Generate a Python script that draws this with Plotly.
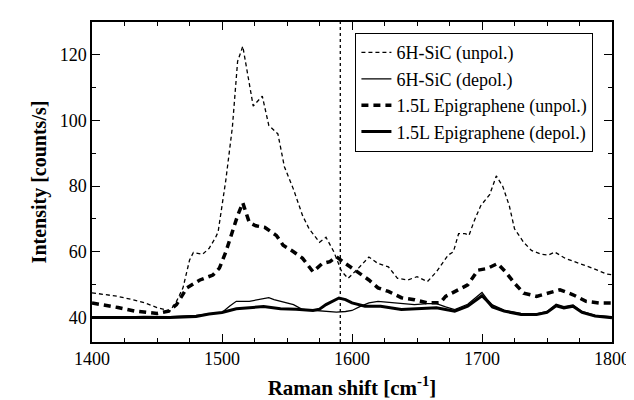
import plotly.graph_objects as go

# 6H-SiC (unpol.)
x_sic_unpol = [1400, 1410, 1420, 1430, 1440, 1450, 1460, 1465, 1470, 1475, 1478, 1485, 1490, 1495,
               1497, 1500, 1503, 1508, 1512, 1516, 1520, 1524, 1531, 1536, 1543, 1548, 1555, 1562,
               1567, 1575, 1580, 1586, 1592, 1597, 1605, 1613, 1620, 1628, 1635, 1643, 1650, 1658,
               1665, 1674, 1678, 1682, 1687, 1690, 1694, 1699, 1706, 1711, 1716, 1721, 1725, 1732,
               1738, 1746, 1751, 1756, 1764, 1775, 1785, 1796, 1800]
y_sic_unpol = [47.5, 47, 46.4, 45.5, 44.5, 43, 42, 44.9, 49, 57.4, 59.8, 59.2, 61, 64.3,
               66, 74, 82, 98, 118, 122.6, 114, 104.4, 107.4, 98.5, 95.9, 85.9, 79, 71,
               67, 62.9, 64.4, 60, 54, 51.9, 55, 58.4, 56.4, 55.4, 51.9, 51.4, 52.4, 50.9,
               53.9, 59, 60, 65.5, 65.5, 65, 69.4, 74, 77.5, 83.1, 79.9, 74, 67, 62.9,
               60.4, 59.2, 59, 59.9, 58, 56.5, 55, 53.2, 53]

# 6H-SiC (depol.)
x_sic_depol = [1400, 1420, 1440, 1460, 1480, 1490, 1500, 1506, 1511, 1521, 1531, 1536, 1540, 1548,
               1555, 1562, 1570, 1580, 1588, 1595, 1600, 1606, 1613, 1620, 1633, 1648, 1658, 1665,
               1672, 1679, 1689, 1695, 1700, 1704, 1708, 1717, 1730, 1742, 1750, 1757, 1763, 1770,
               1777, 1787, 1800]
y_sic_depol = [40.2, 40.1, 40.3, 40.2, 40.6, 41, 41.5, 43.5, 44.9, 44.9, 45.6, 46, 45.4, 44.5,
               43.9, 42.4, 42.1, 41.8, 41.6, 41.8, 42.1, 43.3, 44.4, 44.9, 44.4, 43.9, 44.2, 44.2,
               43.2, 42.4, 44, 46, 47.6, 45.5, 43.8, 42.2, 41.2, 41.1, 41.8, 44, 43.3, 43.8,
               41.8, 40.6, 40.2]

# 1.5L Epigraphene (unpol.)
x_epi_unpol = [1400, 1410, 1420, 1433, 1443, 1450, 1459, 1465, 1473, 1483, 1493, 1498, 1503, 1508,
               1512, 1516, 1521, 1526, 1533, 1542, 1547, 1555, 1562, 1570, 1577, 1583, 1588, 1595,
               1605, 1613, 1620, 1628, 1638, 1648, 1658, 1668, 1672, 1682, 1689, 1697, 1704, 1712,
               1718, 1725, 1732, 1742, 1752, 1760, 1770, 1780, 1790, 1800]
y_epi_unpol = [44.4, 43.8, 43, 41.9, 41.5, 41.2, 41.9, 43.9, 49, 51.4, 52.9, 55, 60, 66,
               71, 74.9, 68.9, 67.9, 67.4, 64.9, 62, 60, 58, 53.9, 56.4, 57, 58.5, 56.4,
               53.5, 51.4, 49, 47.9, 46, 45.4, 44.4, 44.5, 46.4, 48.4, 49.9, 54.4, 54.9, 56.4,
               53.9, 50.4, 47.4, 46.4, 47.4, 48.4, 46.9, 44.9, 44.4, 44.4]

# 1.5L Epigraphene (depol.)
x_epi_depol = [1400, 1420, 1440, 1460, 1480, 1490, 1500, 1511, 1521, 1532, 1545, 1557, 1570, 1575,
               1580, 1585, 1590, 1595, 1600, 1610, 1622, 1638, 1653, 1665, 1672, 1679, 1689, 1695,
               1700, 1704, 1708, 1717, 1730, 1742, 1750, 1757, 1763, 1770, 1777, 1787, 1800]
y_epi_depol = [40, 39.9, 40, 40, 40.3, 41, 41.5, 42.6, 43, 43.3, 42.6, 42.5, 42.1, 42.5,
               43.9, 45, 45.9, 45.4, 44.4, 43.4, 43.4, 42.4, 42.6, 42.9, 42.4, 41.9, 43.4, 45,
               46.6, 45, 43.2, 41.9, 40.9, 40.9, 41.5, 43.5, 42.9, 43.4, 41.5, 40.4, 39.9]

marker_line = 1591

serif = "Liberation Serif"

fig = go.Figure()
fig.add_trace(go.Scatter(x=x_sic_unpol, y=y_sic_unpol, mode="lines", name="6H-SiC (unpol.)",
                         line=dict(color="black", width=1.3, dash="4px,3px")))
fig.add_trace(go.Scatter(x=x_sic_depol, y=y_sic_depol, mode="lines", name="6H-SiC (depol.)",
                         line=dict(color="black", width=1.3)))
fig.add_trace(go.Scatter(x=x_epi_unpol, y=y_epi_unpol, mode="lines", name="1.5L Epigraphene (unpol.)",
                         line=dict(color="black", width=3.5, dash="7px,5px")))
fig.add_trace(go.Scatter(x=x_epi_depol, y=y_epi_depol, mode="lines", name="1.5L Epigraphene (depol.)",
                         line=dict(color="black", width=3)))

fig.add_shape(type="line", x0=marker_line, x1=marker_line, y0=0, y1=1, yref="paper",
              line=dict(color="black", width=1.3, dash="dot"))

axis_common = dict(showline=True, linecolor="black", linewidth=1.5, mirror="ticks",
                   ticks="inside", ticklen=8, tickwidth=1.2, tickcolor="black",
                   showgrid=False, zeroline=False,
                   tickfont=dict(family=serif, size=18, color="black"))

fig.update_xaxes(range=[1400, 1800], dtick=100, tick0=1400,
                 minor=dict(dtick=25, ticks="inside", ticklen=4, tickcolor="black", tickwidth=1),
                 title=dict(text="<b>Raman shift [cm<sup>-1</sup>]</b>",
                            font=dict(family=serif, size=21, color="black"), standoff=12),
                 **axis_common)
fig.update_yaxes(range=[32.5, 130], dtick=20, tick0=40,
                 minor=dict(dtick=10, ticks="inside", ticklen=4, tickcolor="black", tickwidth=1),
                 title=dict(text="<b>Intensity [counts/s]</b>",
                            font=dict(family=serif, size=20, color="black"), standoff=8),
                 **axis_common)

fig.update_layout(
    width=634, height=400,
    font=dict(family=serif, color="black"),
    margin=dict(l=84, r=22, t=14, b=62),
    plot_bgcolor="white", paper_bgcolor="white",
    legend=dict(x=0.506, y=0.966, xanchor="left", yanchor="top",
                bordercolor="black", borderwidth=1.3, bgcolor="white",
                font=dict(family=serif, size=18, color="black"),
                tracegroupgap=0, itemwidth=30),
)

fig.write_html("out.html")
